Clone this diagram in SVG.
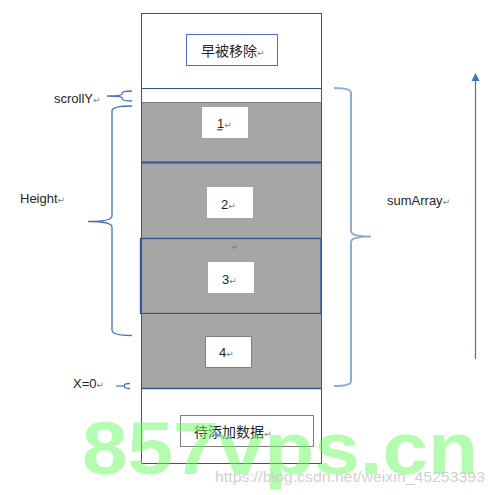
<svg xmlns="http://www.w3.org/2000/svg" width="495" height="495" viewBox="0 0 495 495">
<defs>
<style>
.t{font-family:"Liberation Sans","Noto Sans CJK SC",sans-serif;font-size:13px;fill:#262626}
.c{font-family:"Noto Sans CJK SC","Liberation Sans",sans-serif;font-size:14px;fill:#262626}
.r{font-family:"DejaVu Sans",sans-serif;font-size:9px;fill:#808080}
.blk{fill:#a6a6a6}
.lab{fill:#ffffff}
.br{fill:none;stroke:#4472c4;stroke-width:1.3}
</style>
</defs>
<rect width="495" height="495" fill="#ffffff"/>
<g id="container">
<rect x="141.5" y="13.5" width="180" height="450" fill="#ffffff" stroke="#2f5597" stroke-width="1"/>
</g>
<g id="n-removed">
<rect x="186.5" y="34.5" width="91" height="31" fill="#ffffff" stroke="#4472c4" stroke-width="1"/>
<text class="c" x="201" y="56">早被移除<tspan class="r">↵</tspan></text>
</g>
<g id="n-scrollgap">
<line x1="141.5" y1="88.5" x2="321.5" y2="88.5" stroke="#2f5597" stroke-width="1"/>
</g>
<g id="n-item1">
<rect class="blk" x="142" y="102" width="179" height="61"/>
<line x1="142" y1="102.5" x2="321" y2="102.5" stroke="#7f7f7f" stroke-width="1"/>
<rect class="lab" x="202" y="107" width="46" height="31"/>
<text class="t" x="217" y="128">1<tspan class="r">↵</tspan></text>
<line x1="217" y1="129.8" x2="222.5" y2="129.8" stroke="#000" stroke-width="0.8"/>
</g>
<g id="n-item2">
<rect class="blk" x="142" y="163" width="179" height="75"/>
<rect class="lab" x="207" y="187" width="46" height="31"/>
<text class="t" x="221" y="209">2<tspan class="r">↵</tspan></text>
</g>
<g id="n-item3">
<rect class="blk" x="140.5" y="238.5" width="180.5" height="75" stroke="#2f5597" stroke-width="1.3"/>
<text class="r" x="231" y="250">↵</text>
<rect class="lab" x="208" y="262" width="46" height="31"/>
<text class="t" x="222" y="284">3<tspan class="r">↵</tspan></text>
</g>
<g id="n-item4">
<rect class="blk" x="142" y="314" width="179" height="74"/>
<line x1="141.5" y1="388.5" x2="321.5" y2="388.5" stroke="#2f5597" stroke-width="1.3"/>
<rect x="205.5" y="336.5" width="46" height="31" fill="#ffffff" stroke="#7f7f7f" stroke-width="1"/>
<text class="t" x="219" y="357">4<tspan class="r">↵</tspan></text>
</g>
<g id="edges-lines">
<line x1="142" y1="162.5" x2="321" y2="162.5" stroke="#2f5597" stroke-width="1.8"/>
<line x1="141.5" y1="13.5" x2="141.5" y2="463.5" stroke="#2f5597" stroke-width="1"/>
<line x1="321.5" y1="13.5" x2="321.5" y2="463.5" stroke="#2f5597" stroke-width="1"/>
</g>
<g id="n-pending">
<rect x="180.5" y="415.5" width="133" height="31" fill="#ffffff" stroke="#7f7f7f" stroke-width="1"/>
<text class="c" x="194" y="437">待添加数据<tspan class="r">↵</tspan></text>
</g>
<g id="labels">
<text class="t" x="54" y="103">scrollY<tspan class="r">↵</tspan></text>
<text class="t" x="20" y="203">Height<tspan class="r">↵</tspan></text>
<text class="t" x="73" y="388">X=0<tspan class="r">↵</tspan></text>
<text class="t" x="387" y="205">sumArray<tspan class="r">↵</tspan></text>
</g>
<g id="connectors">
<path class="br" d="M132,91 Q122,91 122,93.5 L122,94 Q122,96 107,96 Q122,96 122,98 L122,98.5 Q122,101 132,101"/>
<path class="br" d="M132,106 Q112,106 112,111 L112,216 Q112,221.5 88,221.5 Q112,221.5 112,227 L112,330 Q112,335.5 132,335.5"/>
<path fill="none" stroke="#8faadc" stroke-width="2" d="M334,88 Q351,88 351,93 L351,231 Q351,236.5 371,236.5 Q351,236.5 351,242 L351,381 Q351,386 334,386"/>
<path fill="none" stroke="#8faadc" stroke-width="2" d="M116,386 L124,386"/>
<path class="br" d="M130,383.5 Q124.5,383.5 124.5,385 L124.5,387 Q124.5,388.5 130,388.5"/>
<line x1="475.5" y1="359" x2="475.5" y2="80" stroke="#4472c4" stroke-width="1.2"/>
<polygon points="475.5,73 471.5,81 479.5,81" fill="#4472c4"/>
</g>
<g id="watermark">
<text x="82" y="474" font-family="Liberation Sans,sans-serif" font-weight="bold" font-size="75" fill="#69f961" fill-opacity="0.5" textLength="396" lengthAdjust="spacingAndGlyphs">857vps.cn</text>
<text x="215" y="482" font-family="Liberation Sans,sans-serif" font-size="15" fill="#c8c8c8" fill-opacity="0.85" textLength="270" lengthAdjust="spacingAndGlyphs">https://blog.csdn.net/weixin_45253393</text>
</g>
</svg>
